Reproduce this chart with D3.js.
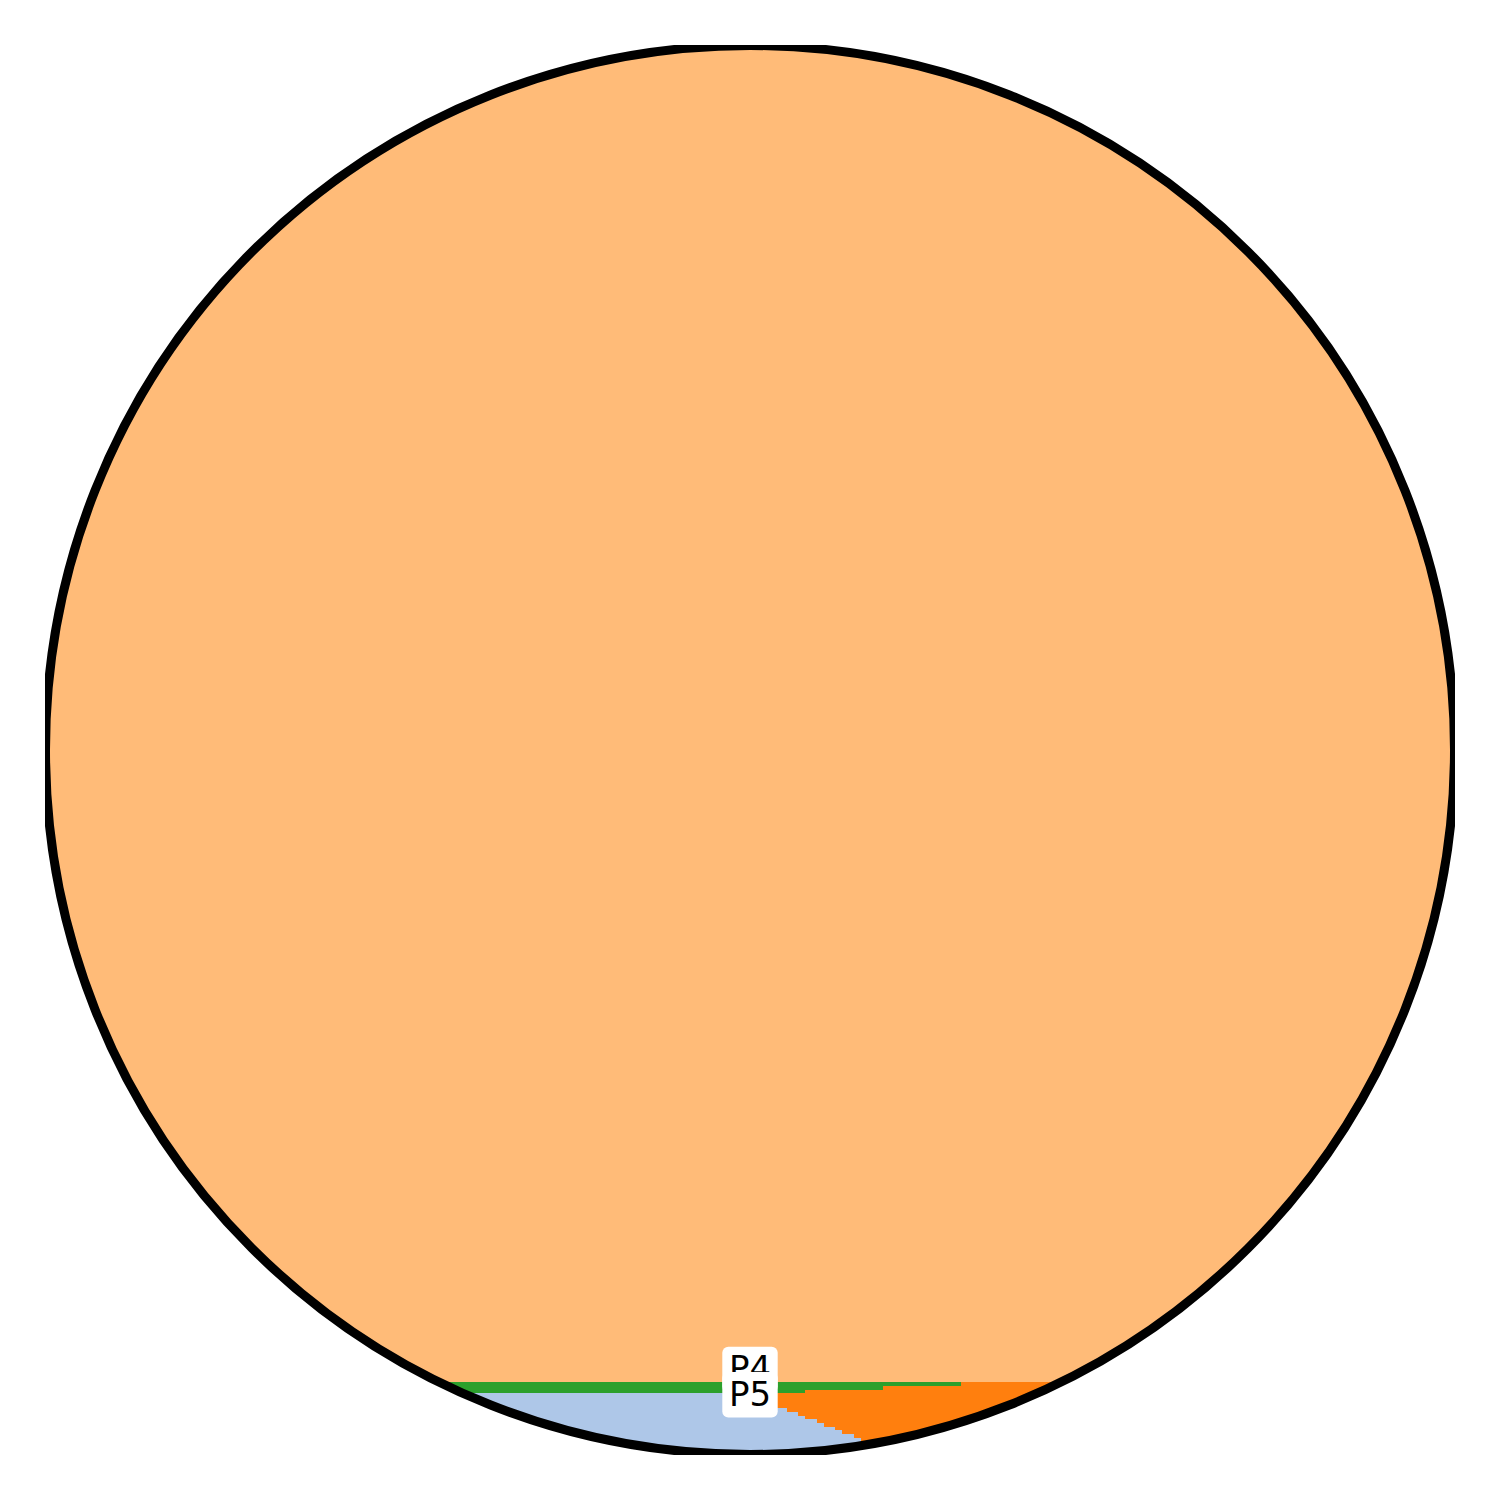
<!DOCTYPE html>
<html>
<head>
<meta charset="utf-8">
<script src="https://cdn.jsdelivr.net/npm/d3@7"></script>
<style>
  html, body { margin: 0; padding: 0; background: #ffffff; }
  svg { display: block; }
</style>
</head>
<body>
<div id="chart"></div>
<script>
// ---- data (grid cells, 380 x 380 grid inside the circle) ----
const gridSize = 380;
const categories = ["P1", "P2", "P3", "P4", "P5"];
const colors = ["#ffbb78", "#2ca02c", "#ff7f0e", "#aec7e8"];
const backgroundCategory = "#ffbb78";
// rows 361..363: green from left edge up to these columns, orange after
const greenRowStart = 361;
const greenEnds = [247, 226, 205];
// rows 364..379: light blue from left edge up to these columns, orange after
const blueRowStart = 364;
const blueEnds = [190, 192, 195, 197, 200, 203, 205, 208, 210, 213, 215, 218, 220, 223, 225, 228];
// annotation labels
const labels = ["P4", "P5"];
const labelY = [1380.4, 1405.7]; // baselines in pixels

// ---- setup ----
const W = 1500, H = 1500;
const cx = 750, cy = 750;
const gridR = 702.5;   // half-extent of the cell grid
const R = 704.5;       // circle path radius
const svg = d3.select("#chart").append("svg").attr("width", W).attr("height", H);
const defs = svg.append("defs");
defs.append("clipPath").attr("id", "circ")
  .append("circle").attr("cx", cx).attr("cy", cy).attr("r", R);
defs.append("clipPath").attr("id", "axes")
  .append("rect").attr("x", 45).attr("y", 45).attr("width", 1410).attr("height", 1410);

const x = d3.scaleLinear().domain([0, gridSize]).range([cx - gridR, cx + gridR]);
const y = d3.scaleLinear().domain([0, gridSize]).range([cy - gridR, cy + gridR]);

const segs = [];
greenEnds.forEach((e, i) => {
  const r = greenRowStart + i;
  segs.push({ r, c0: 0, c1: e, color: colors[1] });
  segs.push({ r, c0: e, c1: gridSize, color: colors[2] });
});
blueEnds.forEach((e, i) => {
  const r = blueRowStart + i;
  segs.push({ r, c0: 0, c1: e, color: colors[3] });
  segs.push({ r, c0: e, c1: gridSize, color: colors[2] });
});

const g = svg.append("g").attr("clip-path", "url(#axes)");
const inner = g.append("g").attr("clip-path", "url(#circ)");
inner.append("circle").attr("cx", cx).attr("cy", cy).attr("r", R).attr("fill", backgroundCategory);
inner.selectAll("rect.cell").data(segs).enter().append("rect")
  .attr("class", "cell")
  .attr("x", d => x(d.c0))
  .attr("y", d => y(d.r))
  .attr("width", d => (d.c1 === gridSize ? 10 : 0) + x(d.c1) - x(d.c0) + 0.3)
  .attr("height", d => (d.r === gridSize - 1 ? 10 : 0) + y(d.r + 1) - y(d.r) + 0.3)
  .attr("fill", d => d.color)
  .attr("shape-rendering", "crispEdges");

g.append("circle").attr("cx", cx).attr("cy", cy).attr("r", R)
  .attr("fill", "none").attr("stroke", "#000").attr("stroke-width", 9);

// labels with rounded white boxes
const lab = svg.append("g");
labels.forEach((t, i) => {
  const base = labelY[i];
  const gg = lab.append("g");
  gg.append("rect")
    .attr("x", 722.3).attr("y", base - 33.7).attr("width", 55.4).attr("height", 45.5)
    .attr("rx", 6).attr("ry", 6).attr("fill", "#fff");
  gg.append("text").attr("x", 750).attr("y", base)
    .attr("text-anchor", "middle")
    .attr("font-family", "DejaVu Sans")
    .attr("font-size", 34)
    .attr("fill", "#000")
    .text(t);
});
</script>
</body>
</html>
